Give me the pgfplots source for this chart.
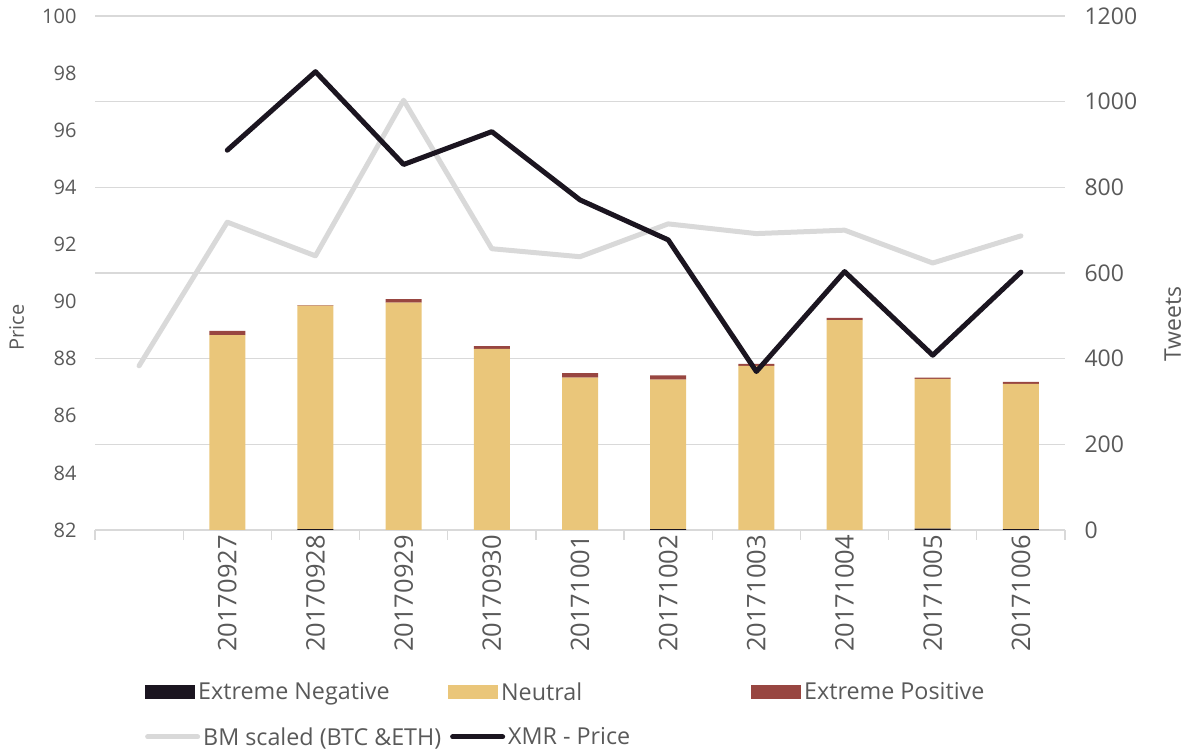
\documentclass[border=0pt]{standalone}
\usepackage{fontspec}
\setmainfont{Open Sans}
\usepackage{pgfplots}
\pgfplotsset{compat=1.18}
\definecolor{gridgray}{HTML}{D9D9D9}
\definecolor{txt}{HTML}{595959}
\definecolor{neutral}{HTML}{EAC67A}
\definecolor{expos}{HTML}{984641}
\definecolor{exneg}{HTML}{1B1520}
\definecolor{bmgray}{HTML}{D9D9D9}
\definecolor{xmr}{HTML}{1B1520}
\pgfplotsset{
  barleg/.style={legend image code/.code={\fill[##1,draw=none] (0pt,-7pt) rectangle (50pt,7pt);}},
  lineleg/.style={legend image code/.code={\draw[##1] (0pt,0pt) -- (50pt,0pt);}},
}
\begin{document}
\begin{tikzpicture}
\useasboundingbox (-95pt,-221pt) rectangle (1093pt,530pt);
\begin{axis}[
  at={(0pt,0pt)}, anchor=south west,
  scale only axis, width=970pt, height=514pt,
  xmin=-0.5, xmax=10.5, ymin=0, ymax=1200,
  axis y line*=right, axis x line*=bottom,
  y axis line style={draw=none},
  x axis line style={draw=gridgray, line width=1.3pt, -},
  ytick={0,200,...,1200},
  ytick style={draw=none},
  yticklabel style={font=\fontsize{23}{27}\selectfont, text=txt, anchor=west, xshift=16pt},
  ymajorgrids, grid style={draw=gridgray, line width=1.3pt},
  /pgf/number format/assume math mode=true,
  /pgf/number format/1000 sep={},
  ylabel={Tweets},
  ylabel style={at={(axis description cs:1.111,0.401)}, anchor=center, font=\fontsize{23}{27}\selectfont, text=txt},
  xtick={1,...,10},
  xticklabels={20170927,20170928,20170929,20170930,20171001,20171002,20171003,20171004,20171005,20171006},
  xtick style={draw=none},
  xticklabel style={rotate=90, anchor=east, inner sep=0pt, xshift=-5pt, font=\fontsize{25.5}{29}\selectfont, text=txt},
  extra x ticks={-0.5,0.5,...,10.5},
  extra x tick labels={},
  extra x tick style={xtick style={draw=gridgray, line width=1.3pt}, major tick length=10pt, tick align=outside, grid=none},
  ybar stacked, bar width=36pt,
  legend columns=3,
  legend style={at={(axis description cs:0.0515,-0.3152)}, anchor=west, draw=none, fill=none, inner sep=0pt,
    column sep=0pt, nodes={inner sep=3pt}, font=\fontsize{23.3}{27}\selectfont, text=txt},
  legend cell align=left,
]
\addplot+[fill=exneg, draw=none, barleg]
  coordinates {(1,0) (2,2) (3,0) (4,0) (5,0) (6,2) (7,0) (8,0) (9,3) (10,2)};
\addlegendentry{\makebox[247pt][l]{Extreme Negative}}
\addplot+[fill=neutral, draw=none, barleg]
  coordinates {(1,455) (2,522) (3,531) (4,423) (5,356) (6,349) (7,383) (8,490) (9,350) (10,339)};
\addlegendentry{\makebox[247pt][l]{Neutral}}
\addplot+[fill=expos, draw=none, barleg]
  coordinates {(1,10) (2,1) (3,8) (4,6) (5,10) (6,10) (7,5) (8,5) (9,3) (10,5)};
\addlegendentry{Extreme Positive}
\end{axis}
\begin{axis}[
  at={(0pt,0pt)}, anchor=south west,
  scale only axis, width=970pt, height=514pt,
  xmin=-0.5, xmax=10.5, ymin=82, ymax=100,
  hide x axis,
  axis y line*=left, y axis line style={draw=none},
  ytick={82,84,...,100}, ytick style={draw=none},
  yticklabel style={font=\fontsize{20}{24}\selectfont, text=txt, xshift=-15pt},
  /pgf/number format/assume math mode=true,
  ylabel={Price},
  ylabel style={at={(axis description cs:-0.0809,0.394)}, anchor=center, font=\fontsize{20}{24}\selectfont, text=txt},
  legend columns=2,
  legend style={at={(axis description cs:0.0515,-0.4027)}, anchor=west, draw=none, fill=none, inner sep=0pt,
    column sep=0pt, nodes={inner sep=3pt}, font=\fontsize{23.3}{27}\selectfont, text=txt},
  legend cell align=left,
]
\addplot[bmgray, line width=5pt, line join=round, line cap=round, lineleg]
  coordinates {(0,87.75) (1,92.78) (2,91.6) (3,97.05) (4,91.85) (5,91.57) (6,92.72) (7,92.38) (8,92.5) (9,91.35) (10,92.3)};
\addlegendentry{\makebox[244pt][l]{BM scaled (BTC \&ETH)}}
\addplot[xmr, line width=5pt, line join=round, line cap=round, lineleg]
  coordinates {(1,95.3) (2,98.05) (3,94.8) (4,95.95) (5,93.56) (6,92.16) (7,87.55) (8,91.05) (9,88.12) (10,91.03)};
\addlegendentry{XMR - Price}
\end{axis}
\end{tikzpicture}
\end{document}
